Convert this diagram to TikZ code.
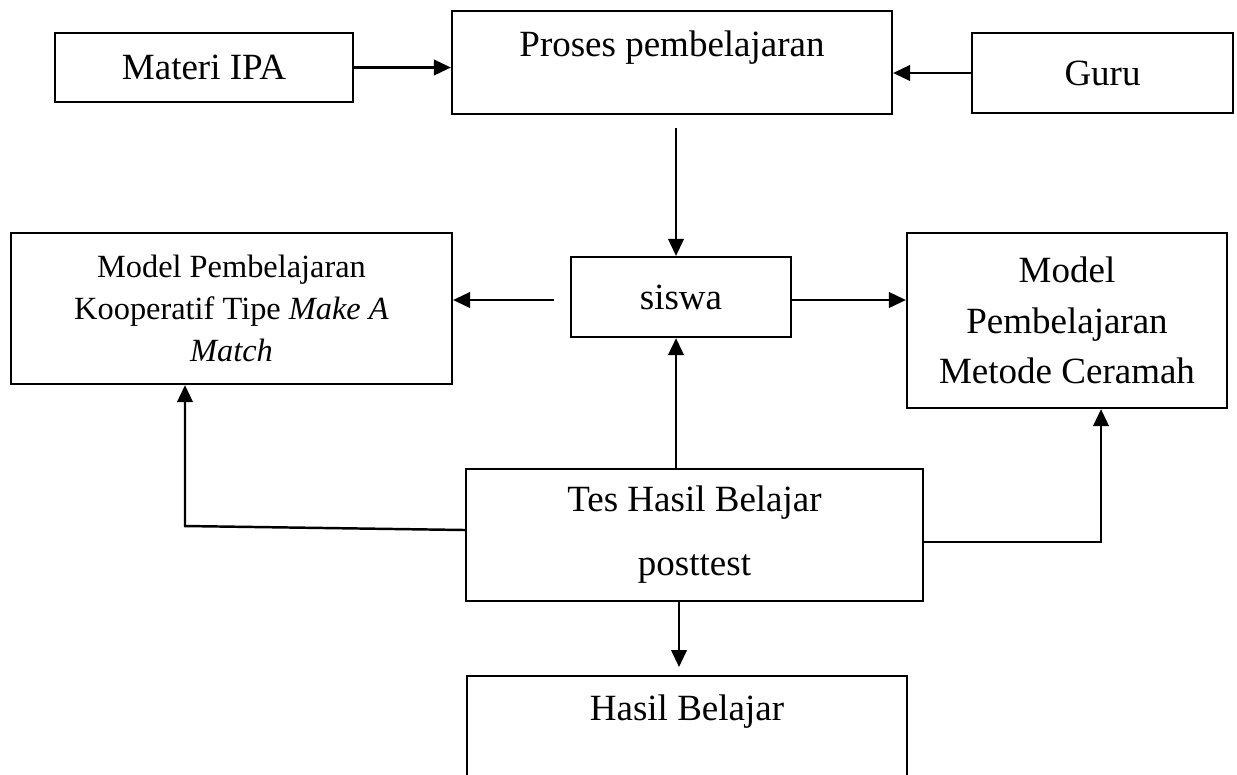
\documentclass[tikz,border=0pt]{standalone}
\usepackage{fontspec}
\setmainfont{Liberation Serif}
\usetikzlibrary{arrows.meta,calc}

\begin{document}
\begin{tikzpicture}[
    x=0.3243pt, y=-0.3243pt,
    line width=0.8pt,
    box/.style={rectangle,draw,line width=0.7pt,inner sep=0pt,align=center,font=\fontsize{12}{15}\selectfont},
    sz/.style 2 args={minimum width=#1*0.3243pt,minimum height=#2*0.3243pt},
    >={Triangle[length=5.5pt,width=5pt]}]
    \clip (0,0) rectangle (1237,774);
    \node[box,sz={298}{69}] (mat) at (204,67.5) {Materi IPA};
    \node[box,minimum width=440*0.3243pt,text height=14.6pt,text depth=18.8pt,anchor=north] (pro) at (672,10) {Proses pembelajaran};
    \node[box,sz={261}{80}] (gur) at (1102.5,73) {Guru};
    \node[box,sz={220}{80}] (sis) at (681,297) {siswa};
    \node[box,sz={441}{151},font=\fontsize{10.5}{13.6}\selectfont] (kop) at (231.5,308.5)
      {Model Pembelajaran\\Kooperatif Tipe \textit{Make A}\\\textit{Match}};
    \node[box,sz={320}{175},font=\fontsize{12}{16.3}\selectfont] (cer) at (1067,320.5)
      {Model\\Pembelajaran\\Metode Ceramah};
    \node[box,sz={457}{132},font=\fontsize{12}{20.8}\selectfont] (tes) at (694.5,535)
      {Tes Hasil Belajar\\posttest};
    \node[box,minimum width=440*0.3243pt,text height=14.3pt,text depth=26.3pt,anchor=north] (has) at (687,675) {Hasil Belajar};

    \coordinate (ax) at (676,0);
    \coordinate (bx) at (679,0);
    \coordinate (sl) at ($(sis.west)+(-16,3)$);
    \coordinate (sr) at ($(sis.east)+(0,3)$);
    \coordinate (kl) at (185,526);
    \coordinate (kr) at (1101,542);

    \draw[->] (mat.east) -- (mat.east -| pro.west);
    \draw[->] (gur.west) -- (gur.west -| pro.east);
    \draw[->] ($(pro.south -| ax)+(0,13)$) -- (sis.north -| ax);
    \draw[->] (sl) -- (sl -| kop.east);
    \draw[->] (sr) -- (sr -| cer.west);
    \draw[->] (tes.north -| ax) -- (sis.south -| ax);
    \draw[->] ($(tes.west)+(0,-5)$) -- (kl) -- (kl |- kop.south);
    \draw[->] ($(tes.east)+(0,7)$) -- (kr) -- (kr |- cer.south);
    \draw[->] (tes.south -| bx) -- ($(has.north -| bx)+(0,-8)$);
  \end{tikzpicture}
\end{document}
